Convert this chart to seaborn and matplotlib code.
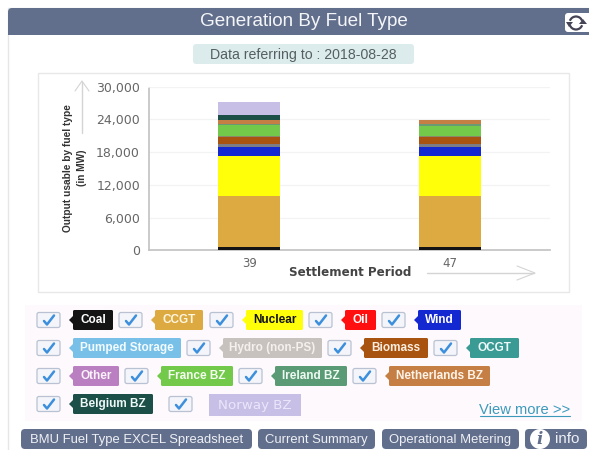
import seaborn as sns
from matplotlib import pyplot as plt
from matplotlib.patches import FancyBboxPatch, Rectangle, Polygon, Arc, Circle
from matplotlib.ticker import FuncFormatter

# settlement periods on the x axis
periods = ['39', '47']

# output per fuel type in MW
coal = [550, 550]
ccgt = [9470, 9470]
nuclear = [7330, 7330]
oil = [0, 0]
wind = [1530, 1530]
pumped = [0, 0]
hydro = [610, 610]
biomass = [1345, 1345]
ocgt = [0, 0]
other = [180, 180]
france = [1955, 1835]
ireland = [180, 305]
netherlands = [733, 733]
belgium = [980, 0]
norway = [2380, 0]

series = [coal, ccgt, nuclear, oil, wind, pumped, hydro, biomass, ocgt, other,
          france, ireland, netherlands, belgium, norway]
bar_colors = ['#141414', '#dcaa41', '#ffff0a', '#ff0f0f', '#1428d2', '#78c0e8',
              '#7c7c84', '#a8530f', '#3a9a94', '#8a8a6a', '#72c94a', '#6a9a74',
              '#c57f45', '#1c4f48', '#c8bfe6']

y_ticks = [0, 6000, 12000, 18000, 24000, 30000]

# legend tags: label, colour, text colour, left, right
legend_rows = [
    (320, [('Coal', '#141414', 'white', 73, 113), ('CCGT', '#dcaa41', '#fff6e0', 155, 203),
           ('Nuclear', '#ffff0a', '#111111', 246, 303), ('Oil', '#ff0f0f', 'white', 345, 376),
           ('Wind', '#1428d2', 'white', 418, 461)]),
    (348, [('Pumped Storage', '#78c0e8', '#f2fbff', 73, 181), ('Hydro (non-PS)', '#c8c2be', '#f4f0ee', 223, 322),
           ('Biomass', '#a8530f', '#fdeee0', 364, 428), ('OCGT', '#3a9a94', '#effafa', 470, 519)]),
    (376, [('Other', '#b97fc0', '#fbf2fc', 73, 119), ('France BZ', '#72c94a', '#f4fff0', 161, 233),
           ('Ireland BZ', '#5a9a74', '#eefaf3', 275, 347), ('Netherlands BZ', '#c57f45', '#fff3e8', 389, 490)]),
    (404, [('Belgium BZ', '#1c4f48', '#eef8f6', 73, 153)]),
]
checkbox_lefts = [[37, 119, 210, 309, 382], [37, 187, 328, 434], [37, 125, 239, 353], [37, 169]]

buttons = [('BMU Fuel Type EXCEL Spreadsheet', 21, 252), ('Current Summary', 258, 375),
           ('Operational Metering', 382, 519)]

W, H = 589, 450
HEADER = '#626f8c'
UI = ['Liberation Sans', 'DejaVu Sans']


def rounded(ax, x0, y0, x1, y1, color, r=2, ec='none', lw=0, z=2):
    ax.add_patch(FancyBboxPatch((x0 + r, y0 + r), x1 - x0 - 2 * r, y1 - y0 - 2 * r,
                                boxstyle=f'round,pad={r},rounding_size={r}',
                                fc=color, ec=ec, lw=lw, zorder=z))


def draw_page(bg):
    # card and header
    bg.add_patch(Rectangle((8, 8), 591, 452, fc='white', ec='#e6e6e6', lw=1))
    rounded(bg, 8, 8, 600, 35, HEADER, r=4)
    bg.add_patch(Rectangle((8, 25), 592, 10, fc=HEADER, ec='none', zorder=2))
    bg.text(304, 21, 'Generation By Fuel Type', color='#f4f5f8', fontsize=13.6, ha='center', va='center',
            family=UI, zorder=3)

    # refresh icon
    rounded(bg, 565, 13, 600, 32, 'white', r=3, z=3)
    bg.add_patch(Arc((576, 23), 13, 13, theta1=200, theta2=340, color='#445', lw=1.6, zorder=4))
    bg.add_patch(Arc((576, 23), 13, 13, theta1=20, theta2=160, color='#445', lw=1.6, zorder=4))
    bg.add_patch(Polygon([(566, 22), (573, 22), (569, 27)], fc='#445', ec='none', zorder=4))
    bg.add_patch(Polygon([(579, 24), (587, 24), (583, 19)], fc='#445', ec='none', zorder=4))

    # date badge
    rounded(bg, 193, 44, 414, 64, '#dcecec', r=3)
    bg.text(303.5, 54.5, 'Data referring to : 2018-08-28', color='#555f63', fontsize=10.2,
            ha='center', va='center', family=UI, zorder=3)

    # chart frame
    bg.add_patch(Rectangle((38, 73), 531, 219, fc='white', ec='#e8e8e8', lw=1, zorder=1))

    # y and x arrows
    bg.plot([82, 82], [133, 82], color='#d4d4d4', lw=1, zorder=3)
    bg.plot([75, 82, 89], [91, 81, 91], color='#d4d4d4', lw=0.8, zorder=3)
    bg.plot([427, 534], [273, 273], color='#d4d4d4', lw=1, zorder=3)
    bg.plot([517, 535, 517], [266, 273, 280], color='#d4d4d4', lw=0.8, zorder=3)

    # legend panel
    bg.add_patch(Rectangle((25, 305), 557, 116, fc='#fdf9fd', ec='none', zorder=1))
    for (y, tags), lefts in zip(legend_rows, checkbox_lefts):
        for x in lefts:
            rounded(bg, x, y - 7.5, x + 23, y + 7.5, '#f4f5fa', r=2, ec='#b9c2d2', lw=0.9)
            bg.plot([x + 7, x + 10, x + 17], [y + 1, y + 4.5, y - 4.5], color='#3c8fdc', lw=1.8, zorder=3)
        for name, color, text_color, x0, x1 in tags:
            rounded(bg, x0, y - 10, x1, y + 10, color, r=1.5)
            bg.add_patch(Polygon([(x0 + 1, y - 5), (x0 - 4, y), (x0 + 1, y + 5)], fc=color, ec='none', zorder=2))
            bg.text((x0 + x1) / 2, y, name, color=text_color, fontsize=8.5, fontweight='bold',
                    ha='center', va='center', family=UI, zorder=3)

    # norway tag has no pointer and lighter text
    bg.add_patch(Rectangle((209, 394), 92, 22, fc='#c8bfe6', ec='none', zorder=2))
    bg.text(255, 405, 'Norway BZ', color='#ebe6fa', fontsize=9.6, ha='center', va='center',
            family='DejaVu Sans', zorder=3)

    bg.text(525, 410.5, 'View more >>', color='#3b9abb', fontsize=10.6, ha='center', va='center',
            family=UI, zorder=3)
    bg.plot([480, 570], [416, 416], color='#3b9abb', lw=0.8, zorder=3)

    # bottom buttons
    for name, x0, x1 in buttons:
        rounded(bg, x0, 429, x1, 449, HEADER, r=4)
        bg.text((x0 + x1) / 2, 439.5, name, color='#eef0f5', fontsize=9.4, ha='center', va='center',
                family=UI, zorder=3)
    rounded(bg, 525, 429, 587, 449, HEADER, r=4)
    bg.add_patch(Circle((540, 439), 10, fc='white', ec='none', zorder=3))
    bg.text(540, 439.5, 'i', color=HEADER, fontsize=12, fontweight='bold', fontstyle='italic', ha='center',
            va='center', family='DejaVu Serif', zorder=4)
    bg.text(567, 439, 'info', color='#eef0f5', fontsize=10.8, ha='center', va='center', family=UI, zorder=3)


def draw_chart(ax):
    bottom = [0, 0]
    for values, color in zip(series, bar_colors):
        sns.barplot(x=periods, y=values, bottom=bottom, color=color, width=0.31, saturation=1,
                    linewidth=0, ax=ax, zorder=3)
        bottom = [b + v for b, v in zip(bottom, values)]

    ax.set_xlim(-0.5, 1.5)
    ax.set_ylim(0, 30000)
    ax.set_yticks(y_ticks)
    ax.yaxis.set_major_formatter(FuncFormatter(lambda v, _: f'{int(v):,}'))
    ax.grid(axis='y', color='#f3f3f3', lw=0.9, zorder=0)
    ax.grid(axis='x', visible=False)
    ax.tick_params(axis='y', length=0, pad=6.5, labelsize=9, labelcolor='#666666')
    ax.tick_params(axis='x', length=0, pad=4.5, labelsize=8.5, labelcolor='#666666')
    sns.despine(ax=ax, top=True, right=True)
    ax.spines['bottom'].set_color('#c4c4c4')
    ax.spines['left'].set_color('#c4c4c4')
    ax.spines['left'].set_linestyle((0, (1, 1)))
    ax.set_xlabel('')
    ax.set_ylabel('')


sns.set_theme(style='white')

fig = plt.figure(figsize=(W / 100, H / 100), dpi=100)

bg = fig.add_axes([0, 0, 1, 1], zorder=0)
bg.set_xlim(0, W)
bg.set_ylim(H, 0)
bg.axis('off')
draw_page(bg)

x0, x1, y0, y1 = 149, 550, 86.7, 250.3
ax = fig.add_axes([x0 / W, 1 - y1 / H, (x1 - x0) / W, (y1 - y0) / H], zorder=1)
ax.patch.set_alpha(0)
draw_chart(ax)

# axis titles sit in page coordinates like the arrows do
fg = fig.add_axes([0, 0, 1, 1], zorder=2)
fg.set_xlim(0, W)
fg.set_ylim(H, 0)
fg.axis('off')
fg.text(350, 273, 'Settlement Period', color='#444444', fontsize=8.6, fontweight='bold', ha='center',
        va='center', family='DejaVu Sans')
fg.text(75, 168, 'Output usable by fuel type\n(in MW)', color='#333333', fontsize=7.3, fontweight='bold',
        rotation=90, ha='center', va='center', linespacing=1.5, multialignment='center', family=UI)

fig.savefig('out.png', dpi=100)
